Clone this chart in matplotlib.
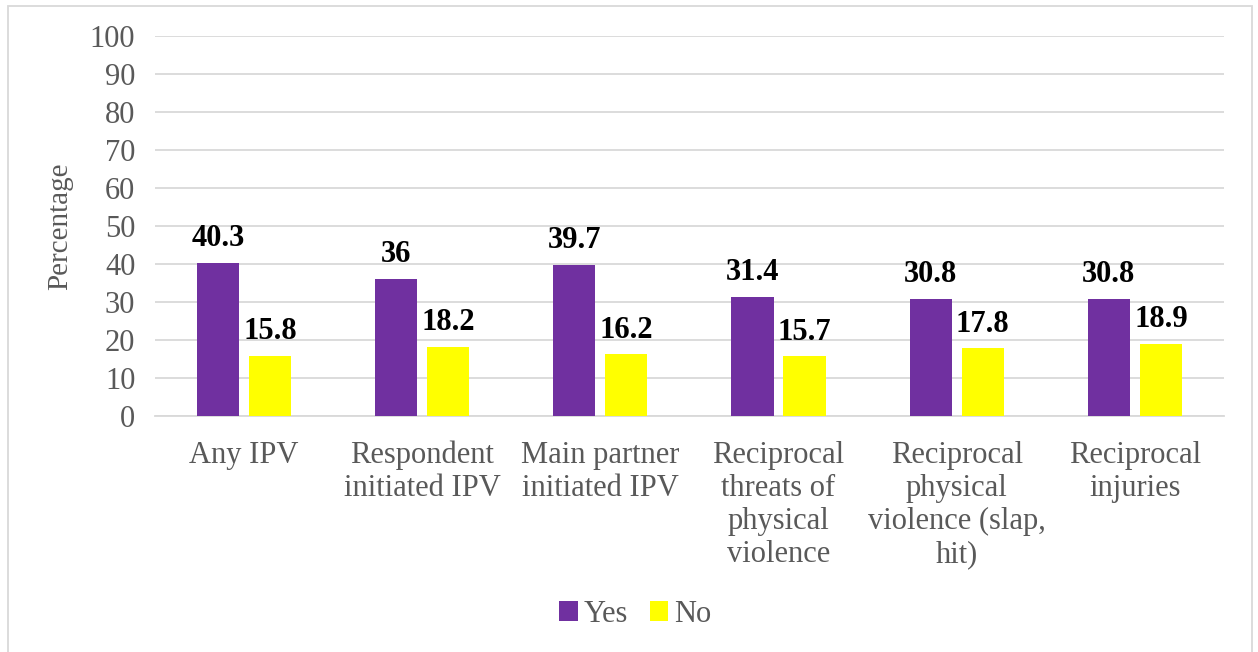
import numpy as np
import matplotlib.pyplot as plt
from matplotlib.patches import Rectangle

plt.rcParams['font.family'] = ['Liberation Serif', 'DejaVu Serif']

categories = ['Any IPV', 'Respondent\ninitiated IPV', 'Main partner\ninitiated IPV',
              'Reciprocal\nthreats of\nphysical\nviolence',
              'Reciprocal\nphysical\nviolence (slap,\nhit)',
              'Reciprocal\ninjuries']
yes_vals = [40.3, 36, 39.7, 31.4, 30.8, 30.8]
no_vals = [15.8, 18.2, 16.2, 15.7, 17.8, 18.9]

gray = '#595959'
x = np.arange(len(categories))
w = 0.236
off = 0.146

fig = plt.figure(figsize=(12.58, 6.52), dpi=100)
ax = fig.add_axes([0.123, 0.362, 0.850, 0.583])

b1 = ax.bar(x - off, yes_vals, w, color='#7030A0', label='Yes', zorder=3)
b2 = ax.bar(x + off, no_vals, w, color='#FFFF00', label='No', zorder=3)

for bars in (b1, b2):
    ax.bar_label(bars, labels=[f'{v:g}' for v in bars.datavalues], padding=7,
                 fontsize=22, fontweight='bold', color='black')

ax.set_xlim(-0.5, len(categories) - 0.5)
ax.set_ylim(0, 100)
ax.set_yticks(range(0, 101, 10))
ax.set_xticks(x)
ax.set_xticklabels(categories, fontsize=22, color=gray, linespacing=1.18, va='top')
ax.tick_params(axis='y', labelsize=22, labelcolor=gray, length=0, pad=14)
ax.tick_params(axis='x', length=0, pad=18)
ax.grid(axis='y', color='#D9D9D9', linewidth=1.3, zorder=0)
for s in ['top', 'right', 'left']:
    ax.spines[s].set_visible(False)
ax.spines['bottom'].set_color('#D9D9D9')
ax.spines['bottom'].set_linewidth(1.3)
ax.set_ylabel('Percentage', fontsize=21, color=gray, labelpad=12)

fig.legend(loc='center', bbox_to_anchor=(0.505, 0.058), ncol=2, frameon=False,
           fontsize=22, labelcolor=gray, handlelength=0.6, handleheight=0.6,
           handletextpad=0.2, columnspacing=0.7)

fig.patches.append(Rectangle((0.006, -0.02), 0.989, 1.011, transform=fig.transFigure,
                             fill=False, edgecolor='#D9D9D9', linewidth=1.3))

fig.savefig('out.png')
